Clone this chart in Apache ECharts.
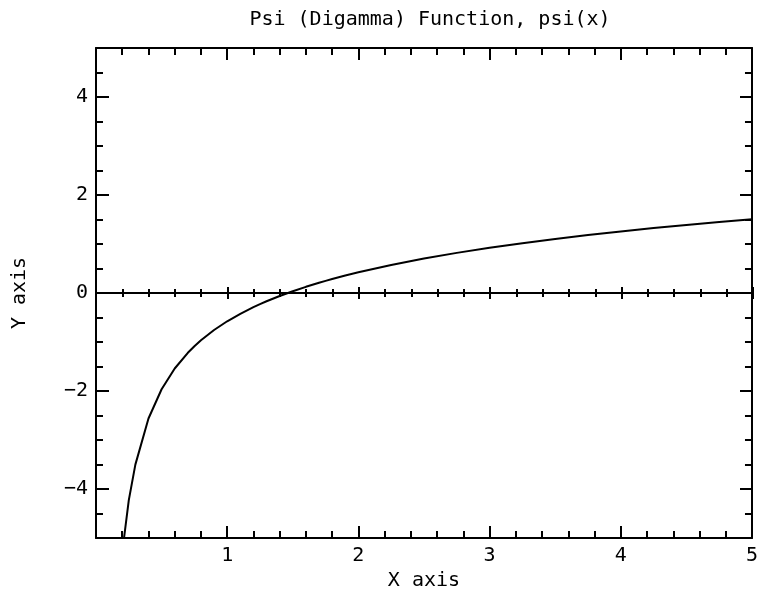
<!DOCTYPE html>
<html>
<head>
<meta charset="utf-8">
<script src="https://cdn.jsdelivr.net/npm/echarts@6/dist/echarts.min.js"></script>
<style>html,body{margin:0;padding:0;background:#fff;}#c{width:761px;height:596px;}</style>
</head>
<body>
<div id="c"></div>
<script>
// Data: psi(x)
const xValues = [0.2, 0.25, 0.3, 0.4, 0.5, 0.6, 0.7, 0.75, 0.8, 0.9, 1.0, 1.1, 1.2, 1.25, 1.3, 1.4, 1.5, 1.6, 1.7, 1.75, 1.8, 1.9, 2.0, 2.25, 2.5, 2.75, 3.0, 3.25, 3.5, 3.75, 4.0, 4.25, 4.5, 4.75, 5.0];
const psiValues = [-5.289, -4.227, -3.503, -2.561, -1.964, -1.541, -1.220, -1.086, -0.965, -0.755, -0.577, -0.424, -0.289, -0.227, -0.169, -0.061, 0.036, 0.126, 0.209, 0.248, 0.285, 0.356, 0.423, 0.573, 0.703, 0.819, 0.923, 1.017, 1.103, 1.183, 1.256, 1.325, 1.389, 1.449, 1.506];
const xTicks = [1, 2, 3, 4, 5];
const yTickLabels = [-4, -2, 0, 2, 4];
const titleText = 'Psi (Digamma) Function, psi(x)';
const xName = 'X axis';
const yName = 'Y axis';

const FONT = '"DejaVu Sans Mono", monospace';
const BLACK = '#000';
const lineStyle = {color: BLACK, width: 2};
const G = {left: 96, top: 48, width: 657, height: 490};
const unitY = G.height / 10;
const Gc = {left: 96, top: G.top + unitY, width: 657, height: unitY * 8};

const xMin = 0, xMax = 5, yMin = -5, yMax = 5;

const data = xValues.map((x, i) => [x, psiValues[i]]);

const option = {
  animation: false,
  backgroundColor: '#fff',
  title: {
    text: titleText, left: 425, top: 5, textAlign: 'center',
    textStyle: {fontFamily: FONT, fontSize: 20, fontWeight: 'normal', color: BLACK}
  },
  grid: [
    Object.assign({}, G),   // 0 main
    Object.assign({}, G),   // 1 zero line
    Object.assign({}, Gc)   // 2 major y ticks
  ],
  xAxis: [
    { // 0 bottom main
      gridIndex: 0, type: 'value', position: 'bottom', min: xMin, max: xMax, interval: 1,
      name: xName, nameLocation: 'middle', nameGap: 30,
      nameTextStyle: {fontFamily: FONT, fontSize: 20, color: BLACK},
      axisLine: {onZero: false, lineStyle: lineStyle},
      axisTick: {inside: true, length: 12, lineStyle: lineStyle},
      minorTick: {show: true, splitNumber: 5, length: 7, lineStyle: lineStyle},
      splitLine: {show: false},
      axisLabel: {fontFamily: FONT, fontSize: 20, color: BLACK, margin: 8,
        formatter: v => (xTicks.indexOf(v) >= 0 ? String(v) : '')}
    },
    { // 1 top main
      gridIndex: 0, type: 'value', position: 'top', min: xMin, max: xMax, interval: 1,
      axisLine: {onZero: false, lineStyle: lineStyle},
      axisTick: {inside: true, length: 12, lineStyle: lineStyle},
      minorTick: {show: true, splitNumber: 5, length: 7, lineStyle: lineStyle},
      splitLine: {show: false}, axisLabel: {show: false}
    },
    { // 2 zero line, ticks up
      gridIndex: 1, type: 'value', position: 'bottom', min: xMin, max: xMax, interval: 1,
      axisLine: {onZero: true, onZeroAxisIndex: 2, lineStyle: lineStyle},
      axisTick: {inside: true, length: 6, lineStyle: lineStyle},
      minorTick: {show: true, splitNumber: 5, length: 4, lineStyle: lineStyle},
      splitLine: {show: false}, axisLabel: {show: false}
    },
    { // 3 zero line, ticks down
      gridIndex: 1, type: 'value', position: 'top', min: xMin, max: xMax, interval: 1,
      axisLine: {onZero: true, onZeroAxisIndex: 2, lineStyle: lineStyle},
      axisTick: {inside: true, length: 6, lineStyle: lineStyle},
      minorTick: {show: true, splitNumber: 5, length: 4, lineStyle: lineStyle},
      splitLine: {show: false}, axisLabel: {show: false}
    },
    { // 4 sub grid x (hidden)
      gridIndex: 2, type: 'value', min: xMin, max: xMax, show: false,
      axisLine: {onZero: false}
    }
  ],
  yAxis: [
    { // 0 left minor ticks
      gridIndex: 0, type: 'value', position: 'left', min: yMin, max: yMax, interval: 0.5,
      name: yName, nameLocation: 'middle', nameGap: 66, nameRotate: 90,
      nameTextStyle: {fontFamily: FONT, fontSize: 20, color: BLACK},
      axisLine: {onZero: false, lineStyle: lineStyle},
      axisTick: {inside: true, length: 7, lineStyle: lineStyle},
      splitLine: {show: false}, axisLabel: {show: false}
    },
    { // 1 right minor ticks
      gridIndex: 0, type: 'value', position: 'right', min: yMin, max: yMax, interval: 0.5,
      axisLine: {onZero: false, lineStyle: lineStyle},
      axisTick: {inside: true, length: 7, lineStyle: lineStyle},
      splitLine: {show: false}, axisLabel: {show: false}
    },
    { // 2 zero grid y (hidden parts)
      gridIndex: 1, type: 'value', min: yMin, max: yMax,
      axisLine: {show: false, onZero: false}, axisTick: {show: false},
      splitLine: {show: false}, axisLabel: {show: false}
    },
    { // 3 left major ticks + labels
      gridIndex: 2, type: 'value', position: 'left', min: -4, max: 4, interval: 2,
      axisLine: {show: false, onZero: false},
      axisTick: {inside: true, length: 13, lineStyle: lineStyle},
      splitLine: {show: false},
      axisLabel: {fontFamily: FONT, fontSize: 20, color: BLACK, margin: 8,
        formatter: v => (yTickLabels.indexOf(v) >= 0 ? (v < 0 ? '\u2212' + Math.abs(v) : String(v)) : '')}
    },
    { // 4 right major ticks
      gridIndex: 2, type: 'value', position: 'right', min: -4, max: 4, interval: 2,
      axisLine: {show: false, onZero: false},
      axisTick: {inside: true, length: 13, lineStyle: lineStyle},
      splitLine: {show: false}, axisLabel: {show: false}
    }
  ],
  series: [{
    type: 'line', xAxisIndex: 0, yAxisIndex: 0, data: data,
    showSymbol: false, symbol: 'none', clip: true,
    lineStyle: {color: BLACK, width: 2}
  }]
};
const chart = echarts.init(document.getElementById('c'), null, {renderer: 'canvas'});
chart.setOption(option);
</script>
</body>
</html>
